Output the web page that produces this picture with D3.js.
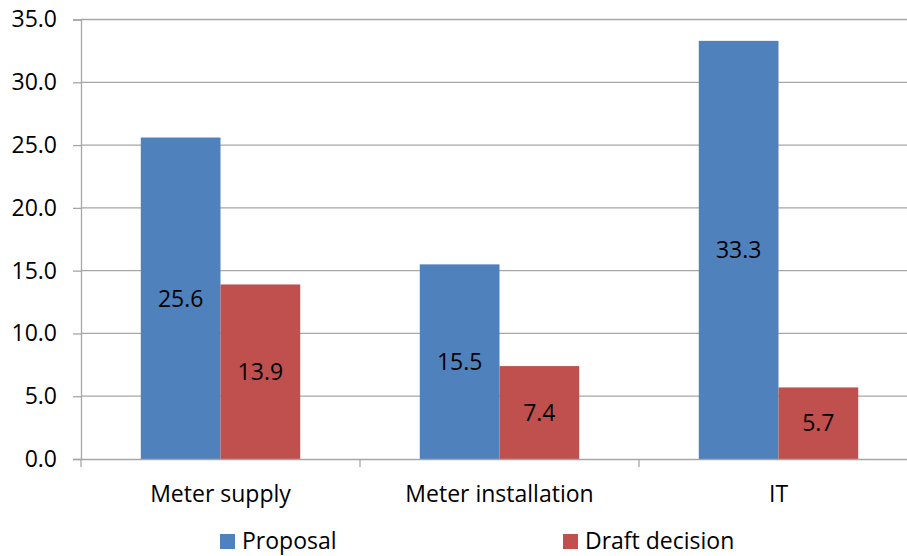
<!DOCTYPE html>
<html>
<head>
<meta charset="utf-8">
<script src="https://cdn.jsdelivr.net/npm/d3@7"></script>
<style>
  html, body { margin: 0; padding: 0; background: #fff; }
  svg { display: block; }
  text { font-family: "Open Sans", "Liberation Sans", sans-serif; fill: #000; }
</style>
</head>
<body>
<svg id="chart" width="907" height="556"></svg>
<script>
// Cost components (values shown on the bars)
const categories = ["Meter supply", "Meter installation", "IT"];
const seriesNames = ["Proposal", "Draft decision"];
const proposal = [25.6, 15.5, 33.3];
const draftDecision = [13.9, 7.4, 5.7];
const yTicks = [0, 5, 10, 15, 20, 25, 30, 35];

const colors = ["#4F81BD", "#C0504D"];
const seriesValues = [proposal, draftDecision];

const svg = d3.select("#chart");
const plotLeft = 81, plotRight = 918, plotTop = 19.5, plotBottom = 459;
const fontSize = "23px";

const x = d3.scaleBand().domain(categories).range([plotLeft, plotRight]).paddingInner(0).paddingOuter(0);
const bw = x.bandwidth();
// Excel-style 150% gap width: each band = 2 bars + 1.5 bar widths of gap
const barW = bw / 3.5;
const xs = d3.scaleBand().domain(seriesNames).range([0.75 * barW, 0.75 * barW + 2 * barW]);

const y = d3.scaleLinear().domain([0, 35]).range([plotBottom, plotTop]);

const axisColor = "#a6a6a6";

// horizontal gridlines
svg.append("g").selectAll("line").data(yTicks.filter(d => d > 0)).join("line")
  .attr("x1", plotLeft).attr("x2", 907)
  .attr("y1", d => y(d)).attr("y2", d => y(d))
  .attr("stroke", axisColor).attr("stroke-width", 1.3);

// bars
const table = categories.map((c, i) => ({ cat: c, vals: seriesNames.map((s, j) => ({ s, j, v: seriesValues[j][i] })) }));
const groups = svg.append("g").selectAll("g").data(table).join("g")
  .attr("transform", d => `translate(${x(d.cat)},0)`);
groups.selectAll("rect").data(d => d.vals).join("rect")
  .attr("x", d => xs(d.s))
  .attr("width", xs.bandwidth())
  .attr("y", d => y(d.v))
  .attr("height", d => y(0) - y(d.v))
  .attr("fill", d => colors[d.j]);
groups.selectAll("text").data(d => d.vals).join("text")
  .attr("x", d => xs(d.s) + xs.bandwidth() / 2)
  .attr("y", d => (y(d.v) + y(0)) / 2)
  .attr("dy", "0.36em")
  .attr("text-anchor", "middle")
  .style("font-size", fontSize)
  .text(d => d.v.toFixed(1));

// y axis
const yAxis = d3.axisLeft(y).tickValues(yTicks).tickFormat(d3.format(".1f")).tickSize(8).tickPadding(16);
const gy = svg.append("g").attr("transform", `translate(${plotLeft},0)`).call(yAxis);
gy.select(".domain").attr("stroke", axisColor).attr("stroke-width", 1.3);
gy.selectAll(".tick line").attr("stroke", axisColor).attr("stroke-width", 1.3);
gy.selectAll(".tick text").style("font-size", fontSize).attr("fill", "#000");

// x axis
const xAxis = d3.axisBottom(x).tickSize(0).tickPadding(27);
const gx = svg.append("g").attr("transform", `translate(0,${plotBottom})`).call(xAxis);
gx.select(".domain").attr("stroke", axisColor).attr("stroke-width", 1.3);
gx.selectAll(".tick text").style("font-size", fontSize).attr("fill", "#000");
// category separators
svg.append("g").selectAll("line").data(categories).join("line")
  .attr("x1", d => x(d)).attr("x2", d => x(d))
  .attr("y1", plotBottom).attr("y2", plotBottom + 8)
  .attr("stroke", axisColor).attr("stroke-width", 1.3);

// legend
const legendX = [220, 563];
const legend = svg.append("g").selectAll("g").data(seriesNames).join("g")
  .attr("transform", (d, i) => `translate(${legendX[i]},534)`);
legend.append("rect").attr("width", 15).attr("height", 15).attr("fill", (d, i) => colors[i]);
legend.append("text").attr("x", 22).attr("y", 15)
  .style("font-size", fontSize).text(d => d);
</script>
</body>
</html>
